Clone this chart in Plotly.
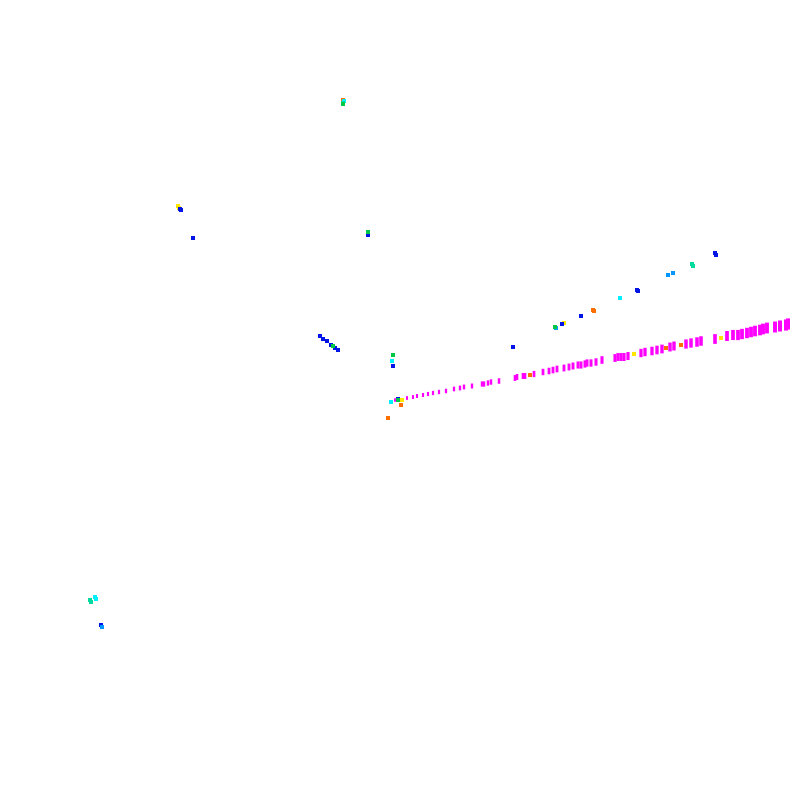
import plotly.graph_objs as go

# sampled points, grouped by colour (x, y in plot units)
magenta_x = [39.5, 40.7, 41.3, 41.7, 42.3, 42.8, 43.3, 43.9, 44.6, 45.4, 46.0, 46.4, 47.2, 48.2, 48.4,
             48.8, 49.1, 49.9, 51.5, 51.7, 52.3, 52.5, 53.4, 54.3, 54.9, 55.3, 55.7, 56.4, 56.9, 57.3,
             57.8, 58.1, 58.5, 58.7, 59.1, 59.6, 60.2, 61.5, 61.8, 62.1, 62.4, 62.8, 64.1, 64.5, 65.2,
             65.7, 66.2, 67.0, 67.4, 68.6, 69.1, 69.7, 70.1, 71.5, 72.7, 73.3, 73.8, 74.2, 74.7, 75.1,
             75.5, 76.0, 76.3, 76.7, 77.5, 78.0, 78.6, 78.8]
magenta_y = [40.0, 40.2, 40.3, 40.4, 40.5, 40.6, 40.7, 40.8, 40.9, 41.1, 41.2, 41.3, 41.4, 41.6, 41.6,
             41.7, 41.8, 41.9, 42.2, 42.3, 42.4, 42.4, 42.6, 42.8, 42.9, 43.0, 43.1, 43.2, 43.3, 43.4,
             43.5, 43.5, 43.6, 43.7, 43.7, 43.8, 44.0, 44.2, 44.3, 44.3, 44.3, 44.4, 44.7, 44.8, 44.9,
             45.0, 45.1, 45.3, 45.4, 45.6, 45.7, 45.8, 45.9, 46.1, 46.4, 46.5, 46.5, 46.6, 46.7, 46.8,
             46.9, 47.0, 47.1, 47.2, 47.3, 47.4, 47.5, 47.6]

yellow_x = [63.4, 72.1, 17.8, 17.9, 56.4, 40.2]
yellow_y = [44.6, 46.2, 59.4, 59.2, 47.7, 40.0]

orange_x = [66.6, 68.1, 53.0, 59.3, 59.4, 40.1, 38.8, 34.3]
orange_y = [45.2, 45.5, 42.5, 49.0, 48.9, 39.5, 38.2, 70.0]

blue_x = [18.0, 18.1, 19.3, 36.8, 32.0, 32.3, 32.7, 33.1, 33.5, 33.8, 51.3, 56.2, 58.1, 63.7, 63.8,
          71.5, 71.6, 10.1, 39.3, 39.8]
blue_y = [59.1, 59.0, 56.2, 56.5, 46.4, 46.1, 45.9, 45.5, 45.2, 45.0, 45.3, 47.6, 48.4, 51.0, 50.9,
          54.7, 54.5, 17.5, 43.4, 40.1]

cyan_x = [39.2, 62.0, 9.5, 9.6, 39.1, 34.4]
cyan_y = [43.9, 50.2, 20.3, 20.1, 39.8, 69.9]

lightblue_x = [66.8, 67.3, 10.2, 55.6]
lightblue_y = [52.5, 52.7, 17.3, 47.2]

teal_x = [69.2, 69.3, 9.0, 9.1, 34.3]
teal_y = [53.6, 53.4, 20.0, 19.8, 69.7]

green_x = [55.5, 34.3, 36.8, 33.3, 39.3, 39.8]
green_y = [47.3, 69.6, 56.8, 45.4, 44.5, 40.0]

groups = [
    (magenta_x, magenta_y, 'rgb(255, 0, 255)'),
    (yellow_x, yellow_y, 'rgb(255, 230, 0)'),
    (orange_x, orange_y, 'rgb(255, 110, 0)'),
    (blue_x, blue_y, 'rgb(0, 20, 230)'),
    (cyan_x, cyan_y, 'rgb(0, 240, 255)'),
    (lightblue_x, lightblue_y, 'rgb(0, 150, 255)'),
    (teal_x, teal_y, 'rgb(0, 220, 160)'),
    (green_x, green_y, 'rgb(0, 200, 70)'),
]

data = []
for i, (xs, ys, col) in enumerate(groups):
    if i == 0:
        # points further right look nearer, so draw them as taller, thicker ticks
        lo, hi = min(xs), max(xs)
        t = [(v - lo) / (hi - lo) for v in xs]
        marker = dict(symbol='line-ns', size=[2.5 + 5.5 * k for k in t], opacity=1,
                      line=dict(color=col, width=[2 + 2 * k for k in t]))
    else:
        marker = dict(symbol='square', size=4, color=col, opacity=1, line=dict(width=0))
    data.append(go.Scatter(
        x=xs, y=ys, mode='markers', marker=marker,
        showlegend=False, hoverinfo='skip'))

# the page body keeps an 8px margin, so the plot is 784px and its ranges are trimmed to match
layout = dict(
    width=784, height=784,
    margin=dict(l=0, r=0, t=0, b=0),
    paper_bgcolor='white', plot_bgcolor='white',
    xaxis=dict(visible=False, range=[0.8, 79.2], fixedrange=True),
    yaxis=dict(visible=False, range=[0.8, 79.2], fixedrange=True),
)

fig = go.Figure(data=data, layout=layout)
fig.write_html("out.html")
